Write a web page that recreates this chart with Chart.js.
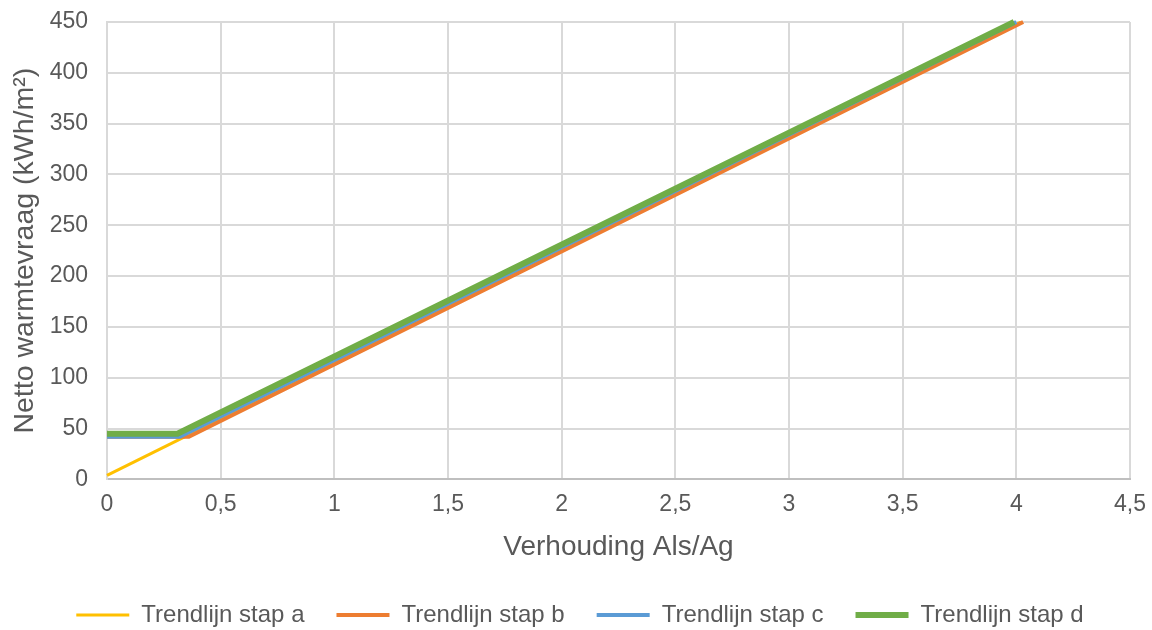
<!DOCTYPE html>
<html>
<head>
<meta charset="utf-8">
<script src="https://cdn.jsdelivr.net/npm/chart.js@4/dist/chart.umd.min.js"></script>
<style>
  html, body { margin: 0; padding: 0; background: #fff; }
  #wrap { width: 1152px; height: 630px; }
</style>
</head>
<body>
<div id="wrap"><canvas id="chart"></canvas></div>
<script>
// trendlijnen, punten [Als/Ag, kWh/m2]
var stapA = [[0, 4], [4.02, 450]];
var stapB = [[0, 42], [0.36, 42], [4.03, 450]];
var stapC = [[0, 42], [0.32, 42], [4.0, 450]];
var stapD = [[0, 45], [0.31, 45], [3.99, 450]];

var reeksNamen = ["Trendlijn stap a", "Trendlijn stap b", "Trendlijn stap c", "Trendlijn stap d"];
var kleuren = ["#FFC000", "#ED7D31", "#5B9BD5", "#70AD47"];
var dikte = [3, 4, 4, 6];

var grijs = "#595959";
var font = "'Liberation Sans', Arial, sans-serif";

function naarPunten(arr) {
    return arr.map(function (p) { return { x: p[0], y: p[1] }; });
}

var reeksen = [stapA, stapB, stapC, stapD];
var datasets = reeksen.map(function (r, i) {
    return {
        label: reeksNamen[i],
        data: naarPunten(r),
        borderColor: kleuren[i],
        backgroundColor: kleuren[i],
        borderWidth: dikte[i],
        pointRadius: 0,
        pointStyle: "line",
        tension: 0,
        order: reeksen.length - i, // stap d bovenop
        clip: 3
    };
});

// legenda iets lager en naar rechts zetten
var legendaVerschuiven = {
    id: "legendaVerschuiven",
    afterLayout: function (chart) {
        var lg = chart.legend;
        lg.top += 7; lg.bottom += 7;
        lg.left += 11; lg.right += 11;
    }
};

new Chart(document.getElementById("chart").getContext("2d"), {
    type: "line",
    data: { datasets: datasets },
    plugins: [legendaVerschuiven],
    options: {
        responsive: true,
        maintainAspectRatio: false,
        animation: false,
        layout: { padding: { left: 8, right: 22, top: 22, bottom: 0 } },
        plugins: {
            tooltip: { enabled: false },
            legend: {
                position: "bottom",
                labels: {
                    usePointStyle: true,
                    pointStyleWidth: 53,
                    color: grijs,
                    padding: 32,
                    font: { family: font, size: 24 },
                    sort: function (a, b) { return a.datasetIndex - b.datasetIndex; }
                }
            }
        },
        scales: {
            x: {
                type: "linear",
                min: 0,
                max: 4.5,
                afterFit: function (scale) { scale.paddingRight = 0; },
                ticks: {
                    stepSize: 0.5,
                    color: grijs,
                    font: { family: font, size: 23, lineHeight: 1 },
                    padding: 14,
                    callback: function (v) { return String(v).replace(".", ","); }
                },
                grid: { color: "#d9d9d9", lineWidth: 2, drawTicks: false },
                border: { color: "#bfbfbf", width: 2 },
                title: {
                    display: true,
                    text: "Verhouding Als/Ag",
                    color: grijs,
                    font: { family: font, size: 28 },
                    padding: { top: 0, bottom: 0 }
                }
            },
            y: {
                min: 0,
                max: 450,
                afterFit: function (scale) { scale.width = 99; scale.paddingTop = 0; },
                ticks: {
                    stepSize: 50,
                    color: grijs,
                    font: { family: font, size: 23 },
                    padding: 19
                },
                grid: { color: "#d9d9d9", lineWidth: 2, drawTicks: false },
                border: { color: "#d9d9d9", width: 2 },
                title: {
                    display: true,
                    text: "Netto warmtevraag (kWh/m²)",
                    color: grijs,
                    font: { family: font, size: 28.5 },
                    padding: { top: 0, bottom: 4 }
                }
            }
        }
    }
});
</script>
</body>
</html>
